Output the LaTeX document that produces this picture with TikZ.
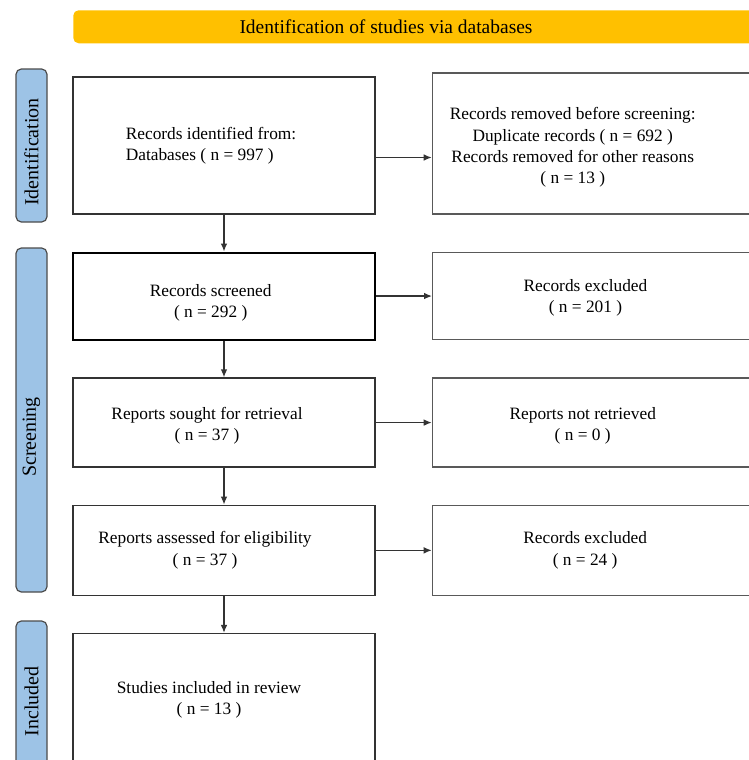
\documentclass[tikz,border=0pt]{standalone}
\usepackage{fontspec}
\setmainfont{Liberation Serif}
\usetikzlibrary{positioning,chains,arrows.meta}
\definecolor{headyellow}{HTML}{FFC000}
\definecolor{bandblue}{HTML}{9DC3E6}

\begin{document}
\begin{tikzpicture}[
x=0.75pt,y=-0.75pt,
font=\fontsize{13}{16}\selectfont,
box/.style={draw=black!80,line width=1.1pt,minimum width=226.5pt,inner sep=0pt},
rbox/.style={draw=black!65,line width=1.1pt,minimum width=247.5pt,inner sep=0pt},
txt/.style={align=center,inner sep=0pt},
band/.style={draw=black!70,fill=bandblue,rounded corners=4pt,line width=0.9pt,minimum width=23.25pt,inner sep=0pt},
bandtxt/.style={rotate=90,inner sep=0pt,font=\fontsize{15}{18}\selectfont},
arr/.style={-{Latex[length=6pt,width=5pt]},draw=black!80,line width=1pt},
]
\useasboundingbox (0,0) rectangle (749,760);
\clip (0,0) rectangle (749,760);

\node[fill=headyellow,rounded corners=4pt,minimum width=560.25pt,minimum height=24.75pt,anchor=north west] (head) at (73,10) {};
\node[txt,font=\fontsize{14.6}{18}\selectfont] (headtxt) at (386,27) {Identification of studies via databases};

\node[band,minimum height=114.75pt] (bid) at (31.5,145.5) {};
\node[band,minimum height=258pt] (bscr) at (31.5,420) {};
\node[band,minimum height=126.75pt] (binc) at (31.5,705.5) {};
\node[bandtxt] (bidtxt) at (31.5,152) {Identification};
\node[bandtxt] (bscrtxt) at (31.5,437) {Screening};
\node[bandtxt] (binctxt) at (31.5,701.5) {Included};

\begin{scope}[start chain=going below,node distance=27.6pt]
\node[on chain,box,minimum height=102.75pt] (rid) at (224,145.5) {};
\node[on chain,box,minimum height=65.25pt,draw=black,line width=1.5pt] (rscr) {};
\node[on chain,box,minimum height=66.75pt] (rsou) {};
\node[on chain,box,minimum height=67.5pt] (rass) {};
\node[on chain,box,minimum height=105pt] (sinc) {};
\end{scope}

\node[rbox,minimum height=105.75pt,right=42pt of rid,yshift=1.5pt] (rrem) {};
\node[rbox,minimum height=65.25pt,right=42pt of rscr] (rexc) {};
\node[rbox,minimum height=66.75pt,right=42pt of rsou] (rnot) {};
\node[rbox,minimum height=67.5pt,right=42pt of rass] (rexct) {};

\node[txt,align=left] (ridtxt) at ([xshift=-9.75pt,yshift=-0.4pt]rid.center) {Records identified from:\\Databases ( n = 997 )};
\node[txt] (rscrtxt) at ([xshift=-10pt,yshift=-5.25pt]rscr.center) {Records screened\\( n = 292 )};
\node[txt] (rsoutxt) at ([xshift=-12.75pt,yshift=-2.6pt]rsou.center) {Reports sought for retrieval\\( n = 37 )};
\node[txt] (rasstxt) at ([xshift=-14.25pt]rass.center) {Reports assessed for eligibility\\( n = 37 )};
\node[txt] (sinctxt) at ([xshift=-11.25pt,yshift=3pt]sinc.center) {Studies included in review\\( n = 13 )};

\node[txt] (rremtxt) at ([xshift=105.75pt,yshift=-3pt]rrem.west) {Records removed before screening:\\Duplicate records ( n = 692 )\\Records removed for other reasons\\( n = 13 )};
\node[txt] (rexctxt) at ([xshift=115.1pt,yshift=-1.5pt]rexc.west) {Records excluded\\( n = 201 )};
\node[txt] (rnottxt) at ([xshift=113.25pt,yshift=-2.6pt]rnot.west) {Reports not retrieved\\( n = 0 )};
\node[txt] (rexcttxt) at ([xshift=115.1pt]rexct.west) {Records excluded\\( n = 24 )};

\draw[arr] ([yshift=-9pt]rid.east) -- ([yshift=-9pt]rid.east -| rrem.west);
\draw[arr] (rscr) -- (rexc);
\draw[arr] (rsou) -- (rnot);
\draw[arr] (rass) -- (rexct);
\draw[arr] (rid) -- (rscr);
\draw[arr] (rscr) -- (rsou);
\draw[arr] (rsou) -- (rass);
\draw[arr] (rass) -- (sinc);

\end{tikzpicture}
\end{document}
